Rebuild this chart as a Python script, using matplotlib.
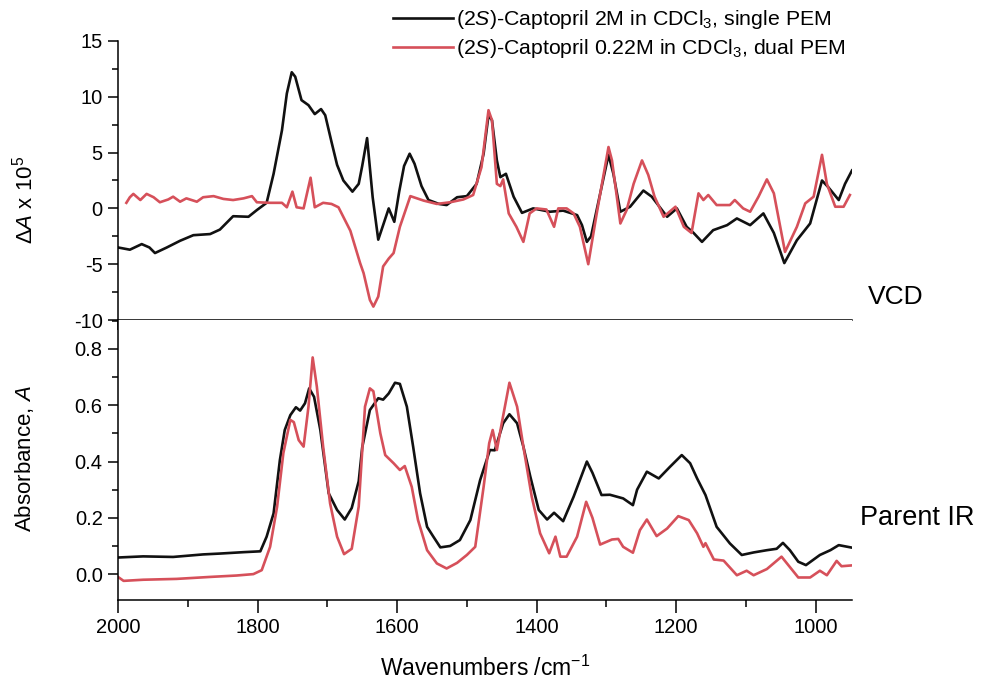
import matplotlib
matplotlib.use("Agg")
import matplotlib.pyplot as plt
from matplotlib.ticker import MultipleLocator

plt.rcParams['font.family'] = ['Liberation Sans', 'DejaVu Sans']
plt.rcParams['mathtext.fontset'] = 'custom'
plt.rcParams['mathtext.rm'] = 'Liberation Sans'
plt.rcParams['mathtext.it'] = 'Liberation Sans:italic'
plt.rcParams['axes.unicode_minus'] = False

# VCD, (2S)-captopril 2M, single PEM
vcd_single_wn = [2000, 1983, 1966, 1955, 1947, 1930, 1911, 1892, 1868, 1854, 1835, 1813, 1801,
                 1787, 1777, 1765, 1758, 1751, 1746, 1737, 1727, 1718, 1709, 1703, 1694, 1686,
                 1677, 1664, 1655, 1650, 1643, 1635, 1627, 1620, 1612, 1604, 1597, 1590, 1582,
                 1575, 1565, 1555, 1540, 1529, 1514, 1500, 1486, 1476, 1469, 1464, 1457, 1452,
                 1444, 1433, 1421, 1405, 1381, 1362, 1342, 1335, 1328, 1322, 1309, 1297, 1290,
                 1280, 1266, 1247, 1235, 1213, 1199, 1185, 1175, 1163, 1147, 1127, 1113, 1094,
                 1075, 1060, 1045, 1027, 1008, 991, 982, 967, 958, 948]
vcd_single = [-3.5, -3.7, -3.2, -3.5, -4.0, -3.5, -2.9, -2.4, -2.3, -1.9, -0.7, -0.75, -0.15,
              0.5, 3.1, 7.0, 10.3, 12.2, 11.8, 9.7, 9.25, 8.45, 8.9, 8.35, 5.96, 3.9,
              2.5, 1.5, 2.2, 3.8, 6.3, 1.0, -2.8, -1.5, 0.0, -1.2, 1.5, 3.8, 4.9,
              4.0, 2.0, 0.75, 0.4, 0.3, 1.0, 1.1, 2.2, 4.9, 8.35, 7.9, 4.3, 2.8,
              3.1, 1.05, -0.4, 0.0, -0.3, -0.2, -0.6, -1.5, -3.0, -2.5, 1.3, 4.8, 3.1,
              -0.3, 0.15, 1.6, 1.05, -0.75, 0.0, -1.65, -2.2, -3.0, -1.95, -1.5, -0.9, -1.5,
              -0.45, -2.2, -4.9, -2.85, -1.35, 2.5, 1.9, 0.75, 2.2, 3.4]

# VCD, (2S)-captopril 0.22M, dual PEM
vcd_dual_wn = [1988, 1983, 1978, 1968, 1959, 1949, 1940, 1928, 1921, 1911, 1902, 1887, 1878,
               1863, 1849, 1835, 1820, 1808, 1801, 1782, 1765, 1758, 1750, 1744, 1734, 1724,
               1718, 1706, 1694, 1684, 1667, 1653, 1648, 1639, 1634, 1627, 1620, 1612, 1605,
               1596, 1581, 1562, 1543, 1524, 1505, 1491, 1479, 1469, 1464, 1457, 1452, 1448,
               1440, 1429, 1419, 1410, 1400, 1386, 1375, 1369, 1357, 1347, 1338, 1326, 1314,
               1297, 1292, 1280, 1271, 1261, 1249, 1240, 1231, 1218, 1201, 1189, 1178, 1168,
               1161, 1154, 1142, 1123, 1116, 1104, 1094, 1082, 1070, 1060, 1044, 1027, 1015,
               1003, 991, 984, 972, 960, 951]
vcd_dual = [0.5, 1.0, 1.3, 0.75, 1.3, 1.0, 0.55, 0.8, 1.05, 0.6, 0.9, 0.6, 1.0,
            1.1, 0.85, 0.75, 0.9, 1.1, 0.55, 0.5, 0.5, 0.1, 1.5, 0.1, 0.0, 2.75,
            0.1, 0.5, 0.4, 0.1, -2.0, -4.9, -5.8, -8.2, -8.8, -7.9, -5.2, -4.5, -4.0,
            -1.65, 1.1, 0.7, 0.4, 0.55, 0.8, 1.2, 3.7, 8.8, 7.9, 2.2, 2.0, 2.6,
            -0.45, -1.65, -3.0, -0.45, 0.0, -0.1, -1.65, 0.0, 0.0, -0.45, -1.65, -5.0, -0.5,
            5.5, 4.3, -1.35, -0.15, 2.2, 4.3, 3.0, 1.05, -0.75, 0.15, -1.65, -2.2, 1.35,
            0.75, 1.2, 0.3, 0.3, 0.75, 0.0, -0.3, 1.05, 2.6, 1.35, -3.9, -1.65, 0.45,
            1.05, 4.8, 2.2, 0.15, 0.15, 1.2]

# parent IR absorbance, 2M single PEM
ir_single_wn = [2000, 1964, 1921, 1878, 1854, 1820, 1796, 1787, 1777, 1768, 1761, 1753, 1745,
                1739, 1732, 1726, 1719, 1710, 1698, 1686, 1675, 1665, 1655, 1650, 1639, 1627,
                1620, 1612, 1603, 1596, 1586, 1577, 1567, 1557, 1548, 1538, 1524, 1510, 1495,
                1481, 1467, 1460, 1448, 1439, 1428, 1419, 1409, 1397, 1385, 1375, 1362, 1347,
                1328, 1320, 1307, 1295, 1276, 1262, 1256, 1242, 1225, 1209, 1192, 1180, 1170,
                1158, 1142, 1123, 1106, 1089, 1070, 1056, 1047, 1037, 1025, 1014, 994, 979,
                967, 948]
ir_single = [0.059, 0.063, 0.061, 0.070, 0.073, 0.078, 0.081, 0.133, 0.216, 0.405, 0.512, 0.565, 0.593,
             0.581, 0.607, 0.66, 0.63, 0.512, 0.287, 0.228, 0.194, 0.235, 0.33, 0.45, 0.583, 0.625,
             0.62, 0.642, 0.68, 0.676, 0.595, 0.453, 0.287, 0.168, 0.133, 0.095, 0.10, 0.121, 0.192,
             0.334, 0.441, 0.44, 0.536, 0.568, 0.536, 0.453, 0.346, 0.228, 0.194, 0.218, 0.188, 0.275,
             0.40, 0.36, 0.281, 0.282, 0.269, 0.245, 0.30, 0.364, 0.34, 0.381, 0.423, 0.394, 0.34,
             0.281, 0.168, 0.109, 0.068, 0.077, 0.085, 0.09, 0.111, 0.085, 0.044, 0.032, 0.068, 0.085,
             0.103, 0.094]

# parent IR absorbance, 0.22M dual PEM
ir_dual_wn = [2000, 1992, 1964, 1916, 1868, 1830, 1806, 1794, 1782, 1772, 1763, 1753, 1748,
              1741, 1734, 1727, 1721, 1715, 1706, 1696, 1686, 1676, 1665, 1655, 1646, 1639,
              1634, 1624, 1617, 1605, 1596, 1589, 1579, 1570, 1557, 1543, 1529, 1514, 1500,
              1488, 1476, 1468, 1463, 1457, 1450, 1439, 1428, 1419, 1407, 1395, 1382, 1373,
              1366, 1357, 1342, 1329, 1320, 1309, 1292, 1283, 1276, 1262, 1252, 1242, 1228,
              1213, 1197, 1182, 1170, 1161, 1158, 1146, 1132, 1113, 1099, 1089, 1070, 1049,
              1037, 1025, 1008, 994, 984, 970, 963, 948]
ir_dual = [-0.01, -0.024, -0.02, -0.017, -0.01, -0.005, 0.0, 0.014, 0.097, 0.239, 0.43, 0.548, 0.54,
           0.476, 0.453, 0.595, 0.77, 0.666, 0.453, 0.251, 0.133, 0.071, 0.09, 0.24, 0.595, 0.66,
           0.65, 0.50, 0.423, 0.394, 0.37, 0.384, 0.31, 0.192, 0.085, 0.038, 0.02, 0.04, 0.068,
           0.097, 0.31, 0.465, 0.512, 0.441, 0.536, 0.68, 0.595, 0.453, 0.275, 0.145, 0.074, 0.133,
           0.062, 0.062, 0.133, 0.257, 0.2, 0.105, 0.123, 0.125, 0.097, 0.076, 0.156, 0.194, 0.135,
           0.162, 0.206, 0.192, 0.145, 0.097, 0.11, 0.052, 0.048, -0.004, 0.012, -0.004, 0.018, 0.062,
           0.025, -0.012, -0.012, 0.012, -0.004, 0.047, 0.028, 0.031]

black = '#111111'
red = '#d6505a'

fig = plt.figure(figsize=(10.02, 6.84), dpi=100)
W, H = 1002, 684
left, right = 118 / W, 852 / W
ax1 = fig.add_axes([left, 1 - 320 / H, right - left, (320 - 41) / H])
ax2 = fig.add_axes([left, 1 - 600 / H, right - left, (600 - 320) / H])

l1, = ax1.plot(vcd_single_wn, vcd_single, color=black, lw=1.9)
l2, = ax1.plot(vcd_dual_wn, vcd_dual, color=red, lw=1.9)
ax2.plot(ir_single_wn, ir_single, color=black, lw=1.9)
ax2.plot(ir_dual_wn, ir_dual, color=red, lw=1.9)

for ax in (ax1, ax2):
    ax.set_xlim(2000, 948)
    ax.spines['top'].set_visible(False)
    ax.spines['right'].set_visible(False)
    ax.xaxis.set_major_locator(MultipleLocator(200))
    ax.xaxis.set_minor_locator(MultipleLocator(100))
    ax.tick_params(which='major', direction='out', length=7, width=1.1, labelsize=14.5, pad=4)
    ax.tick_params(which='minor', direction='out', length=4, width=1.1)
    ax.spines['left'].set_linewidth(1.1)
    ax.spines['bottom'].set_linewidth(1.1)

ax1.set_ylim(-10, 15)
ax1.yaxis.set_major_locator(MultipleLocator(5))
ax1.yaxis.set_minor_locator(MultipleLocator(2.5))
ax1.tick_params(axis='x', labelbottom=False)

ax2.set_ylim(-0.092, 0.903)
ax2.yaxis.set_major_locator(MultipleLocator(0.2))
ax2.yaxis.set_minor_locator(MultipleLocator(0.1))
ax2.yaxis.set_major_formatter(plt.FormatStrFormatter('%.1f'))
ax2.tick_params(axis='x', which='major', length=9)
ax2.tick_params(axis='x', which='minor', length=5)

fig.text(25 / W, 1 - 200 / H, r'$\Delta\mathit{A}$ x 10$^5$', rotation=90,
         ha='center', va='center', fontsize=16)
fig.text(25 / W, 1 - 459 / H, r'Absorbance, $\mathit{A}$', rotation=90,
         ha='center', va='center', fontsize=16)
fig.text(868 / W, 1 - 297 / H, 'VCD', ha='left', va='center', fontsize=19)
fig.text(860 / W, 1 - 518 / H, 'Parent IR', ha='left', va='center', fontsize=19.5)
fig.text(485 / W, 1 - 668 / H, r'Wavenumbers /cm$^{-1}$', ha='center', va='center', fontsize=16.5)

fig.legend([l1, l2],
           [r'(2$\mathit{S}$)-Captopril 2M in CDCl$_3$, single PEM',
            r'(2$\mathit{S}$)-Captopril 0.22M in CDCl$_3$, dual PEM'],
           loc='upper left', bbox_to_anchor=(393 / W, 1 - 8 / H), frameon=False,
           fontsize=15.3, handlelength=2.8, handletextpad=0.15, labelspacing=0.3,
           borderpad=0, borderaxespad=0)

fig.savefig('out.png', dpi=100)
